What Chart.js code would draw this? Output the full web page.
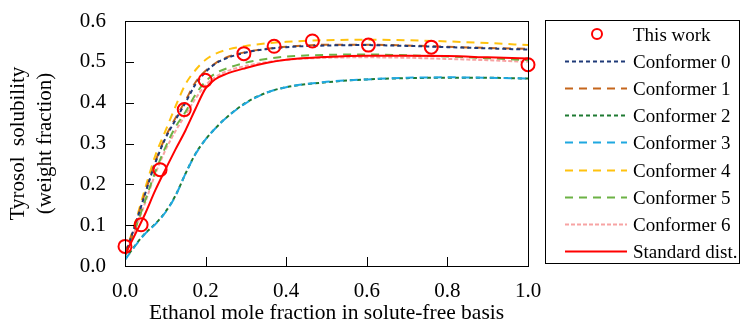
<!DOCTYPE html>
<html>
<head>
<meta charset="utf-8">
<script src="https://cdn.jsdelivr.net/npm/chart.js@4"></script>
<style>
  html, body { margin: 0; padding: 0; background: #fff; }
  #wrap { position: relative; width: 742px; height: 327px; }
  #legend {
    position: absolute; left: 545px; top: 20px; width: 195px; height: 244px;
    box-sizing: border-box; border: 1px solid #000;
    font-family: 'Liberation Serif', 'Times New Roman', serif; font-size: 19px; color: #000;
  }
  .row { position: absolute; left: 0; height: 27px; width: 100%; }
  .row svg { position: absolute; left: 19px; top: 0; }
  .row span { position: absolute; left: 87px; top: 0; line-height: 27px; white-space: nowrap; }
</style>
</head>
<body>
<div id="wrap">
  <canvas id="chart" width="742" height="327"></canvas>
  <div id="legend"></div>
</div>
<script>
// measured points
const expX = [0.0, 0.04, 0.087, 0.147, 0.199, 0.295, 0.370, 0.465, 0.604, 0.760, 1.0];
const expY = [0.048, 0.101, 0.236, 0.383, 0.455, 0.520, 0.538, 0.551, 0.541, 0.536, 0.493];

// model curves, all on the same x grid
const gridX = [0, 0.025, 0.05, 0.075, 0.1, 0.125, 0.15, 0.175, 0.2, 0.225, 0.25, 0.3, 0.35, 0.4, 0.5, 0.6, 0.7, 0.8, 0.9, 1.0];
const conf0 = [0.026, 0.1, 0.177, 0.252, 0.312, 0.357, 0.40, 0.445, 0.475, 0.496, 0.508, 0.523, 0.531, 0.536, 0.540, 0.541, 0.539, 0.536, 0.533, 0.530];
const conf1 = [0.03, 0.1, 0.18, 0.255, 0.315, 0.362, 0.405, 0.45, 0.478, 0.497, 0.51, 0.524, 0.532, 0.537, 0.542, 0.542, 0.540, 0.537, 0.534, 0.532];
const conf2 = [0.016, 0.05, 0.08, 0.103, 0.132, 0.172, 0.226, 0.275, 0.31, 0.338, 0.362, 0.40, 0.424, 0.438, 0.450, 0.457, 0.460, 0.461, 0.461, 0.459];
const conf3 = [0.015, 0.049, 0.079, 0.102, 0.131, 0.171, 0.226, 0.274, 0.31, 0.338, 0.362, 0.399, 0.424, 0.438, 0.451, 0.457, 0.461, 0.462, 0.461, 0.459];
const conf4 = [0.03, 0.105, 0.19, 0.27, 0.33, 0.39, 0.445, 0.48, 0.505, 0.52, 0.529, 0.539, 0.545, 0.549, 0.553, 0.554, 0.553, 0.550, 0.546, 0.541];
const conf5 = [0.025, 0.09, 0.16, 0.23, 0.29, 0.34, 0.377, 0.42, 0.452, 0.472, 0.483, 0.498, 0.507, 0.513, 0.517, 0.518, 0.516, 0.513, 0.509, 0.504];
const conf6 = [0.025, 0.088, 0.155, 0.225, 0.283, 0.33, 0.37, 0.41, 0.443, 0.463, 0.476, 0.49, 0.499, 0.505, 0.510, 0.511, 0.510, 0.507, 0.504, 0.500];
const stdDist = [0.028, 0.077, 0.128, 0.185, 0.236, 0.285, 0.332, 0.385, 0.435, 0.458, 0.47, 0.485, 0.497, 0.505, 0.512, 0.515, 0.515, 0.514, 0.511, 0.508];

const xTicks = [0, 0.2, 0.4, 0.6, 0.8, 1.0];
const font = "'Liberation Serif', 'Times New Roman', serif";

const toXY = (xs, ys) => xs.map((x, i) => ({ x: x, y: ys[i] }));

const curve = (label, ys, color, dash, order) => ({
  type: 'line',
  label: label,
  data: toXY(gridX, ys),
  borderColor: color,
  backgroundColor: color,
  borderWidth: 2,
  borderDash: dash,
  pointRadius: 0,
  cubicInterpolationMode: 'monotone',
  fill: false,
  order: order
});

// box around the plot, ticks pointing inward
const frame = {
  id: 'frame',
  afterDraw(chart) {
    const { ctx, chartArea: a, scales } = chart;
    ctx.save();
    ctx.strokeStyle = '#000';
    ctx.lineWidth = 1;
    ctx.setLineDash([]);
    ctx.strokeRect(a.left + 0.5, a.top + 0.5, a.right - a.left, a.bottom - a.top);
    ctx.beginPath();
    scales.x.ticks.forEach(t => {
      const px = Math.round(scales.x.getPixelForValue(t.value)) + 0.5;
      ctx.moveTo(px, a.bottom);
      ctx.lineTo(px, a.bottom - 9);
    });
    scales.y.ticks.forEach(t => {
      const py = Math.round(scales.y.getPixelForValue(t.value)) + 0.5;
      ctx.moveTo(a.left, py);
      ctx.lineTo(a.left + 9, py);
    });
    ctx.stroke();
    ctx.restore();
  }
};

const chart = new Chart(document.getElementById('chart'), {
  type: 'line',
  data: {
    datasets: [
      {
        type: 'scatter',
        label: 'This work',
        data: toXY(expX, expY),
        borderColor: '#ff0000',
        backgroundColor: 'rgba(0,0,0,0)',
        borderWidth: 2,
        pointRadius: 6.5,
        pointStyle: 'circle',
        showLine: false,
        clip: false,
        order: 0
      },
      curve('Conformer 0', conf0, '#1f3a78', [4, 3], 2),
      curve('Conformer 1', conf1, '#c5661c', [8, 6], 3),
      curve('Conformer 2', conf2, '#1e7a32', [4, 3], 5),
      curve('Conformer 3', conf3, '#1fa8e0', [8, 6], 4),
      curve('Conformer 4', conf4, '#ffc20e', [8, 6], 6),
      curve('Conformer 5', conf5, '#6cb245', [8, 6], 7),
      curve('Conformer 6', conf6, '#f7a3a3', [4, 2], 8),
      curve('Standard dist.', stdDist, '#ff0000', [], 1)
    ]
  },
  options: {
    responsive: false,
    animation: false,
    layout: { padding: { left: 0, top: 21, right: 214, bottom: 0 } },
    plugins: {
      legend: { display: false },
      tooltip: { enabled: false }
    },
    scales: {
      x: {
        type: 'linear',
        min: 0,
        max: 1,
        afterFit: s => { s.height = 61; },
        afterBuildTicks: s => { s.ticks = xTicks.map(v => ({ value: v })); },
        grid: { display: false, drawTicks: false },
        border: { display: true, color: '#000', width: 1 },
        ticks: {
          color: '#000',
          font: { family: font, size: 21 },
          padding: 13,
          maxRotation: 0,
          callback: v => v.toFixed(1)
        },
        title: {
          display: true,
          text: 'Ethanol mole fraction in solute-free basis',
          color: '#000',
          font: { family: font, size: 21.5, lineHeight: 1.2 },
          padding: { top: 0, bottom: 1 }
        }
      },
      y: {
        min: 0,
        max: 0.6,
        afterFit: s => { s.width = 125; s.paddingTop = 0; s.paddingBottom = 0; },
        grid: { display: false, drawTicks: false },
        border: { display: true, color: '#000', width: 1 },
        ticks: {
          stepSize: 0.1,
          color: '#000',
          font: { family: font, size: 21 },
          padding: 19,
          callback: v => v.toFixed(1)
        },
        title: {
          display: true,
          text: ['Tyrosol  solubility', '(weight fraction)'],
          color: '#000',
          font: { family: font, size: 21, lineHeight: 1.3 },
          padding: { top: 4.5, bottom: 0 }
        }
      }
    }
  },
  plugins: [frame]
});

// legend as html, built from the datasets
const legendEl = document.getElementById('legend');
chart.data.datasets.forEach((ds, i) => {
  const row = document.createElement('div');
  row.className = 'row';
  row.style.top = (i * 27.1) + 'px';
  let sample;
  if (ds.type === 'scatter') {
    sample = '<svg width="62" height="27"><circle cx="32" cy="13" r="5" fill="none" stroke="' +
      ds.borderColor + '" stroke-width="2"/></svg>';
  } else {
    sample = '<svg width="62" height="27"><line x1="0" y1="13.5" x2="62" y2="13.5" stroke="' +
      ds.borderColor + '" stroke-width="2" stroke-dasharray="' + (ds.borderDash.length ? ds.borderDash.join(',') : 'none') +
      '"/></svg>';
  }
  row.innerHTML = sample + '<span>' + ds.label + '</span>';
  legendEl.appendChild(row);
});
</script>
</body>
</html>
